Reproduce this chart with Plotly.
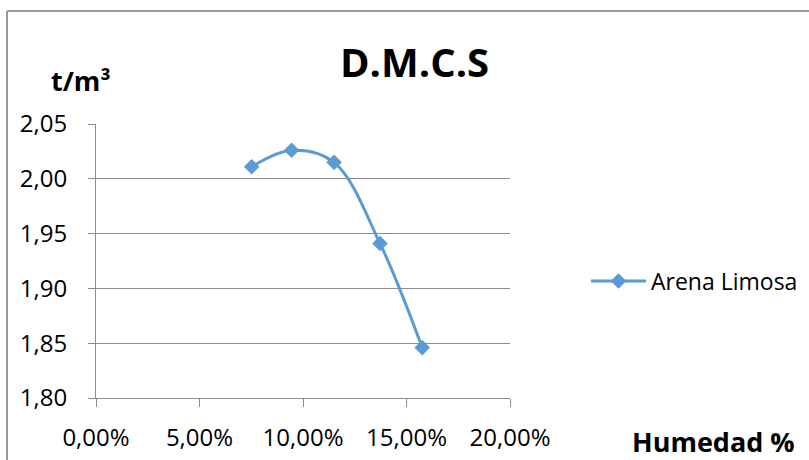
import plotly.graph_objects as go

# Compaction curve data (dry density vs. moisture content)
humedad = [0.0752, 0.0945, 0.1150, 0.1372, 0.1576]
densidad = [2.011, 2.026, 2.015, 1.941, 1.846]
serie = "Arena Limosa"

y_ticks = [1.80, 1.85, 1.90, 1.95, 2.00, 2.05]
x_ticks = [0.0, 0.05, 0.10, 0.15, 0.20]

W, H = 809, 460
L, R, T, B = 96, 510, 124, 398  # plot area in pixels

def px(x):
    return (x - L) / (R - L)

def py(y):
    return (B - y) / (B - T)

FONT = "Open Sans"
BLUE = "#5B9BD5"
GRID = "#8C8C8C"

fig = go.Figure()
fig.add_trace(go.Scatter(
    x=humedad, y=densidad, name=serie,
    mode="lines+markers",
    line=dict(color=BLUE, width=3, shape="spline", smoothing=1.0),
    marker=dict(symbol="diamond", size=12, color=BLUE),
))

fig.update_layout(
    width=W, height=H,
    margin=dict(l=L, r=W - R, t=T, b=H - B, pad=0, autoexpand=False),
    paper_bgcolor="white", plot_bgcolor="white",
    separators=",.",
    font=dict(family=FONT, size=24, color="#000000"),
    showlegend=True,
    legend=dict(x=px(586), y=py(281), xanchor="left", yanchor="middle",
                font=dict(family=FONT, size=23), itemwidth=55,
                bgcolor="rgba(0,0,0,0)"),
    xaxis=dict(range=[0, 0.20], tickvals=x_ticks, tickformat=".2%",
               showgrid=False, zeroline=False, automargin=False,
               showline=True, linecolor=GRID, linewidth=1,
               ticks="outside", ticklen=8, tickcolor=GRID,
               ticklabelstandoff=10,
               tickfont=dict(family=FONT, size=24)),
    yaxis=dict(range=[1.80, 2.05], tickvals=y_ticks, tickformat=".2f",
               showgrid=True, gridcolor=GRID, gridwidth=1, zeroline=False,
               automargin=False,
               showline=True, linecolor=GRID, linewidth=1,
               ticks="outside", ticklen=7, tickcolor=GRID,
               ticklabelstandoff=16,
               tickfont=dict(family=FONT, size=24)),
)

# Chart title and axis captions
fig.add_annotation(text="<b>D.M.C.S</b>", x=px(414), y=py(61), xref="paper", yref="paper",
                   showarrow=False, font=dict(family=FONT, size=40), xanchor="center", yanchor="middle")
fig.add_annotation(text="<b>t/m³</b>", x=px(81), y=py(80), xref="paper", yref="paper",
                   showarrow=False, font=dict(family=FONT, size=27), xanchor="center", yanchor="middle")
fig.add_annotation(text="<b>Humedad %</b>", x=px(713), y=py(441), xref="paper", yref="paper",
                   showarrow=False, font=dict(family=FONT, size=27), xanchor="center", yanchor="middle")

# Chart frame (top and left edges)
frame = dict(color="#9A9A9A", width=2)
fig.add_shape(type="line", xref="paper", yref="paper",
              x0=px(7), y0=py(11), x1=px(W + 5), y1=py(11), line=frame)
fig.add_shape(type="line", xref="paper", yref="paper",
              x0=px(7), y0=py(11), x1=px(7), y1=py(H + 5), line=frame)

fig.write_html("out.html")
